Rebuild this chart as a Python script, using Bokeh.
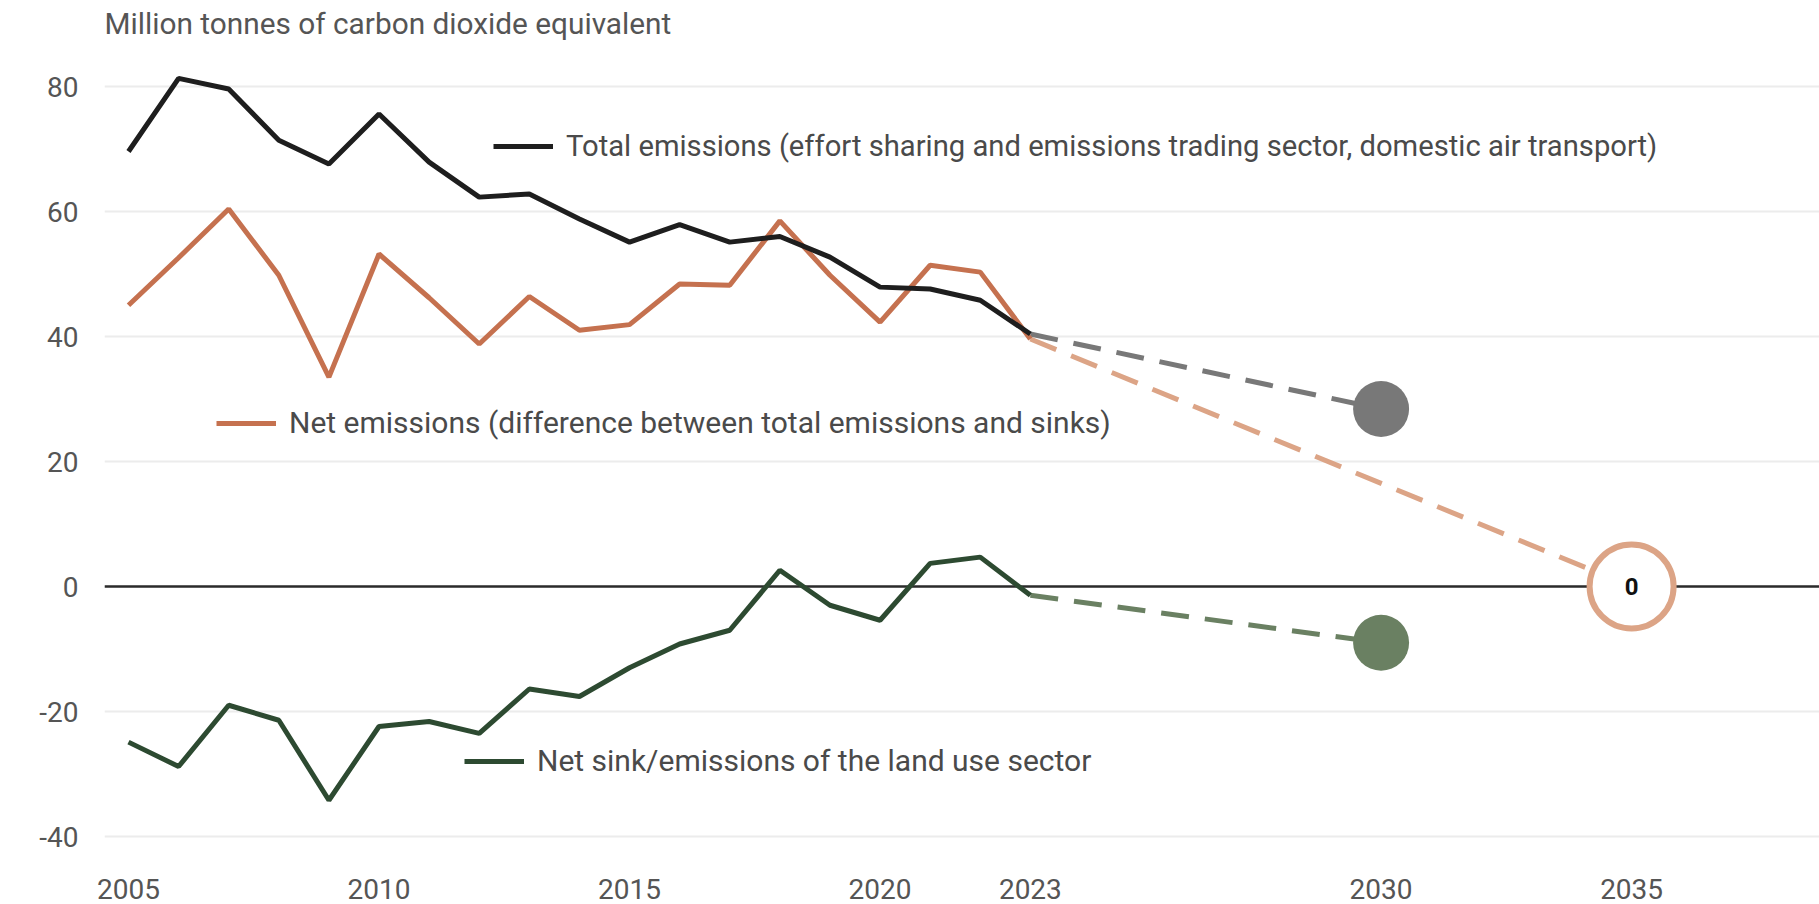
from bokeh.plotting import figure
from bokeh.models import FixedTicker, Span, Range1d, Legend, LegendItem, Label, PrintfTickFormatter
from bokeh.core.properties import value
from bokeh.embed import file_html
from bokeh.resources import INLINE

# ---------------- data ----------------
years = list(range(2005, 2024))
total_emissions = [69.6, 81.3, 79.6, 71.4, 67.6, 75.6, 67.9, 62.3, 62.8, 58.8,
                   55.1, 57.9, 55.1, 56.0, 52.7, 47.9, 47.6, 45.8, 40.4]
net_emissions = [45.0, 52.6, 60.4, 49.8, 33.5, 53.2, 46.2, 38.8, 46.4, 41.0,
                 41.9, 48.4, 48.2, 58.5, 49.8, 42.3, 51.4, 50.3, 39.6]
land_use_sink = [-24.9, -28.8, -19.0, -21.4, -34.2, -22.4, -21.6, -23.5, -16.4, -17.6,
                 -13.0, -9.2, -7.0, 2.6, -3.0, -5.4, 3.7, 4.7, -1.4]

total_target_year, total_target = 2030, 28.4
sink_target_year, sink_target = 2030, -9.0
net_target_year, net_target = 2035, 0

x_ticks = [2005, 2010, 2015, 2020, 2023, 2030, 2035]
y_ticks = [-40, -20, 0, 20, 40, 60, 80]

title_text = "Million tonnes of carbon dioxide equivalent"
label_total = "Total emissions (effort sharing and emissions trading sector, domestic air transport)"
label_net = "Net emissions (difference between total emissions and sinks)"
label_sink = "Net sink/emissions of the land use sector"

# ---------------- styles ----------------
FONT = "Roboto"
C_TOTAL = "#1e1e1e"
C_NET = "#c5714f"
C_SINK = "#2d4a31"
C_TOTAL_P = "#787878"
C_NET_P = "#dca486"
C_SINK_P = "#6a8062"

W, H = 1819, 904
TOP, BOTTOM, LEFT = 0, 38, 104
FRAME_H = H - TOP - BOTTOM

p = figure(width=W, height=H, output_backend="svg", toolbar_location=None,
           x_range=Range1d(2004.521, 2038.75), y_range=Range1d(-44.8, 93.76),
           min_border_left=LEFT, min_border_right=0, min_border_top=TOP,
           min_border_bottom=BOTTOM)
p.outline_line_color = None
p.background_fill_color = "white"
p.border_fill_color = "white"

p.xgrid.visible = False
p.ygrid.grid_line_color = "#ececec"
p.ygrid.grid_line_width = 2

for ax in (p.xaxis, p.yaxis):
    ax.axis_line_color = None
    ax.major_tick_line_color = None
    ax.minor_tick_line_color = None
    ax.major_tick_out = 0
    ax.major_tick_in = 0
    ax.minor_tick_out = 0
    ax.major_label_text_font = FONT
    ax.major_label_text_font_size = "28px"
    ax.major_label_text_color = "#555555"

p.xaxis.ticker = FixedTicker(ticks=x_ticks)
p.yaxis.ticker = FixedTicker(ticks=y_ticks)
p.yaxis.formatter = PrintfTickFormatter(format="%d")
p.xaxis.major_label_text_line_height = 0.7
p.xaxis.major_label_standoff = 12
p.yaxis.major_label_standoff = 26

# chart caption (unit), placed in the empty top strip of the frame
caption = Label(x=0, y=FRAME_H - 23, x_units="screen", y_units="screen", text=title_text,
                text_font=FONT, text_font_size="29.8px", text_color="#555555",
                text_align="left", text_baseline="middle")
p.add_layout(caption)

zero = Span(location=0, dimension="width", line_color="#2b2b2b", line_width=2.5, level="underlay")
p.add_layout(zero)

# projections (dashed)
p.line([years[-1], net_target_year], [net_emissions[-1], net_target],
       line_color=C_NET_P, line_width=5, line_dash="28 16")
p.line([years[-1], total_target_year], [total_emissions[-1], total_target],
       line_color=C_TOTAL_P, line_width=5, line_dash="28 16")
p.line([years[-1], sink_target_year], [land_use_sink[-1], sink_target],
       line_color=C_SINK_P, line_width=5, line_dash="28 16")

# history
r_net = p.line(years, net_emissions, line_color=C_NET, line_width=5)
r_sink = p.line(years, land_use_sink, line_color=C_SINK, line_width=5)
r_total = p.line(years, total_emissions, line_color=C_TOTAL, line_width=5)

# target markers
p.scatter([total_target_year], [total_target], size=56, fill_color=C_TOTAL_P, line_color=None)
p.scatter([sink_target_year], [sink_target], size=56, fill_color=C_SINK_P, line_color=None)
p.scatter([net_target_year], [net_target], size=84, fill_color="white",
          line_color=C_NET_P, line_width=6)
p.text([net_target_year], [net_target], text=[str(net_target)], text_align="center",
       text_baseline="middle", text_font=value("Roboto"), text_font_style="bold",
       text_font_size="24px", text_color="#111111")

def add_key(label, renderer, x, y, size):
    lg = Legend(items=[LegendItem(label=label, renderers=[renderer])], location=(x, y),
                orientation="vertical", padding=0, margin=0, spacing=0,
                glyph_width=60, glyph_height=34, label_height=34, label_standoff=13,
                label_text_font=FONT, label_text_font_size=size,
                label_text_color="#4a4a4a", label_text_baseline="middle",
                background_fill_alpha=0, border_line_color=None)
    p.add_layout(lg, "center")

fb = H - BOTTOM
add_key(label_total, r_total, 389, fb - 146 - 17, "29.2px")
add_key(label_net, r_net, 112, fb - 423 - 17, "30px")
add_key(label_sink, r_sink, 360, fb - 761 - 17, "30px")

open("out.html", "w").write(file_html(p, INLINE))
